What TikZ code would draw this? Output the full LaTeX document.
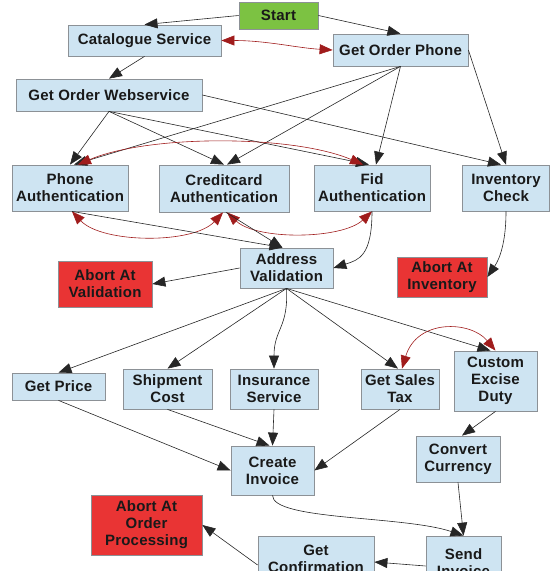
\documentclass[tikz,border=0pt]{standalone}
\usepackage{fontspec}
\setmainfont{Liberation Sans}[LetterSpace=1.5]
\usetikzlibrary{arrows.meta,calc}
\definecolor{boxblue}{RGB}{206,228,242}
\definecolor{boxedge}{RGB}{140,145,150}
\definecolor{abortred}{RGB}{233,52,52}
\definecolor{startgreen}{RGB}{124,194,66}
\definecolor{linkred}{RGB}{160,28,28}
\tikzset{
  box/.style={draw=boxedge, fill=boxblue, line width=0.8pt, align=center, inner sep=0pt,
    font=\bfseries\fontsize{15}{17}\selectfont, text=black!90},
  abortbox/.style={box, fill=abortred},
  startbox/.style={box, fill=startgreen},
  flow/.style={-{Triangle[length=13pt,width=10pt]}, line width=0.6pt, draw=black!85},
  pair/.style={{Triangle[length=13pt,width=10pt]}-{Triangle[length=13pt,width=10pt]}, line width=0.6pt, draw=linkred},
}
\begin{document}
\begin{tikzpicture}[x=1pt,y=-1pt]
\useasboundingbox (0,0) rectangle (550,571);
\clip (0,0) rectangle (550,571);
% nodes
\node[startbox, minimum width=79pt, minimum height=27pt] (start) at (278.5,15.5) {Start};
\node[box, minimum width=153pt, minimum height=31pt] (cat) at (144.5,40.5) {Catalogue Service};
\node[box, minimum width=135pt, minimum height=32pt] (gop) at (400.5,50) {Get Order Phone};
\node[box, minimum width=186pt, minimum height=32pt] (gow) at (109,95) {Get Order Webservice};
\node[box, minimum width=116pt, minimum height=46pt] (pa) at (70,188) {Phone\\Authentication};
\node[box, minimum width=130pt, minimum height=47pt] (ca) at (224,188.5) {Creditcard\\Authentication};
\node[box, minimum width=116pt, minimum height=46pt] (fa) at (372,188) {Fid\\Authentication};
\node[box, minimum width=87pt, minimum height=46pt] (ic) at (506,188) {Inventory\\Check};
\node[box, minimum width=93pt, minimum height=40pt] (av) at (286.5,268) {Address\\Validation};
\node[abortbox, minimum width=94pt, minimum height=46pt] (aav) at (105,284) {Abort At\\Validation};
\node[abortbox, minimum width=90pt, minimum height=40pt] (aai) at (442,277) {Abort At\\Inventory};
\node[box, minimum width=93pt, minimum height=27pt] (gp) at (58.5,386.5) {Get Price};
\node[box, minimum width=89pt, minimum height=40pt] (sc) at (167.5,389) {Shipment\\Cost};
\node[box, minimum width=88pt, minimum height=40pt] (is) at (274,389) {Insurance\\Service};
\node[box, minimum width=78pt, minimum height=40pt] (gst) at (400,389) {Get Sales\\Tax};
\node[box, minimum width=83pt, minimum height=60pt] (ced) at (495.5,381) {Custom\\Excise\\Duty};
\node[box, minimum width=83pt, minimum height=49pt] (ci) at (272.5,470.5) {Create\\Invoice};
\node[box, minimum width=84pt, minimum height=46pt] (cc) at (458,459) {Convert\\Currency};
\node[abortbox, minimum width=111pt, minimum height=60pt] (aop) at (146.5,525) {Abort At\\Order\\Processing};
\node[box, minimum width=116pt, minimum height=46pt] (gc) at (316,559) {Get\\Confirmation};
\node[box, minimum width=75pt, minimum height=54pt] (si) at (463.5,563) {Send\\Invoice};
% connectors
\draw[flow] (start.west) -- (cat.north);
\draw[flow] (start.east) -- (gop.north);
\draw[flow] (cat.south) -- (gow.north);
\draw[pair] (cat.east) .. controls +(45,0) and +(-35,-2) .. (gop.west);
\draw[flow] (gow.south) -- (pa.north);
\draw[flow] (gow.south) -- (ca.north);
\draw[flow] (gow.south) -- ([xshift=-3pt]fa.north);
\draw[flow] (gow.east) -- ([xshift=-5pt]ic.north);
\draw[flow] (gop.south) -- ([xshift=4pt]pa.north);
\draw[flow] (gop.south) -- ([xshift=3pt]ca.north);
\draw[flow] (gop.south) -- ([xshift=4pt]fa.north);
\draw[flow] (gop.east) -- (ic.north);
\draw[pair] ([xshift=8pt]pa.north) .. controls +(70,-30) and +(-70,-30) .. ([xshift=-9pt]fa.north);
\draw[pair] ([xshift=2pt]pa.south) .. controls +(30,32) and +(-30,32) .. ([xshift=-1pt]ca.south);
\draw[pair] ([xshift=3pt]ca.south) .. controls +(30,28) and +(-30,28) .. (fa.south);
\draw[flow] ([xshift=2pt]pa.south) -- ([xshift=-4pt]av.north);
\draw[flow] ([xshift=2pt]ca.south) -- ([xshift=-4pt]av.north);
\draw[flow] (fa.south) .. controls +(0,45) and +(25,-8) .. (av.east);
\draw[flow] (ic.south) .. controls +(0,40) and +(8,-12) .. (aai.east);
\draw[flow] (av.west) -- (aav.east);
\draw[flow] (av.south) -- (gp.north);
\draw[flow] (av.south) -- (sc.north);
\draw[flow] (av.south) .. controls +(2,40) and +(0,-40) .. (is.north);
\draw[flow] (av.south) -- ([xshift=-2pt]gst.north);
\draw[flow] (av.south) -- ([xshift=-5pt]ced.north);
\draw[pair] ([xshift=2pt]gst.north) .. controls +(15,-50) and +(-25,-30) .. (ced.north);
\draw[flow] (gp.south) -- (ci.west);
\draw[flow] (sc.south) -- ([xshift=-3pt]ci.north);
\draw[flow] (is.south) -- (ci.north);
\draw[flow] (gst.south) -- (ci.east);
\draw[flow] (ced.south) -- ([xshift=4pt]cc.north);
\draw[flow] (cc.south) -- (si.north);
\draw[flow] (ci.south) .. controls +(0,25) and +(-60,-20) .. (si.north);
\draw[flow] ([yshift=-3pt]si.west) -- ([yshift=-3pt]gc.east);
\draw[flow] ([yshift=-6pt]gc.west) -- (aop.east);
\end{tikzpicture}
\end{document}
